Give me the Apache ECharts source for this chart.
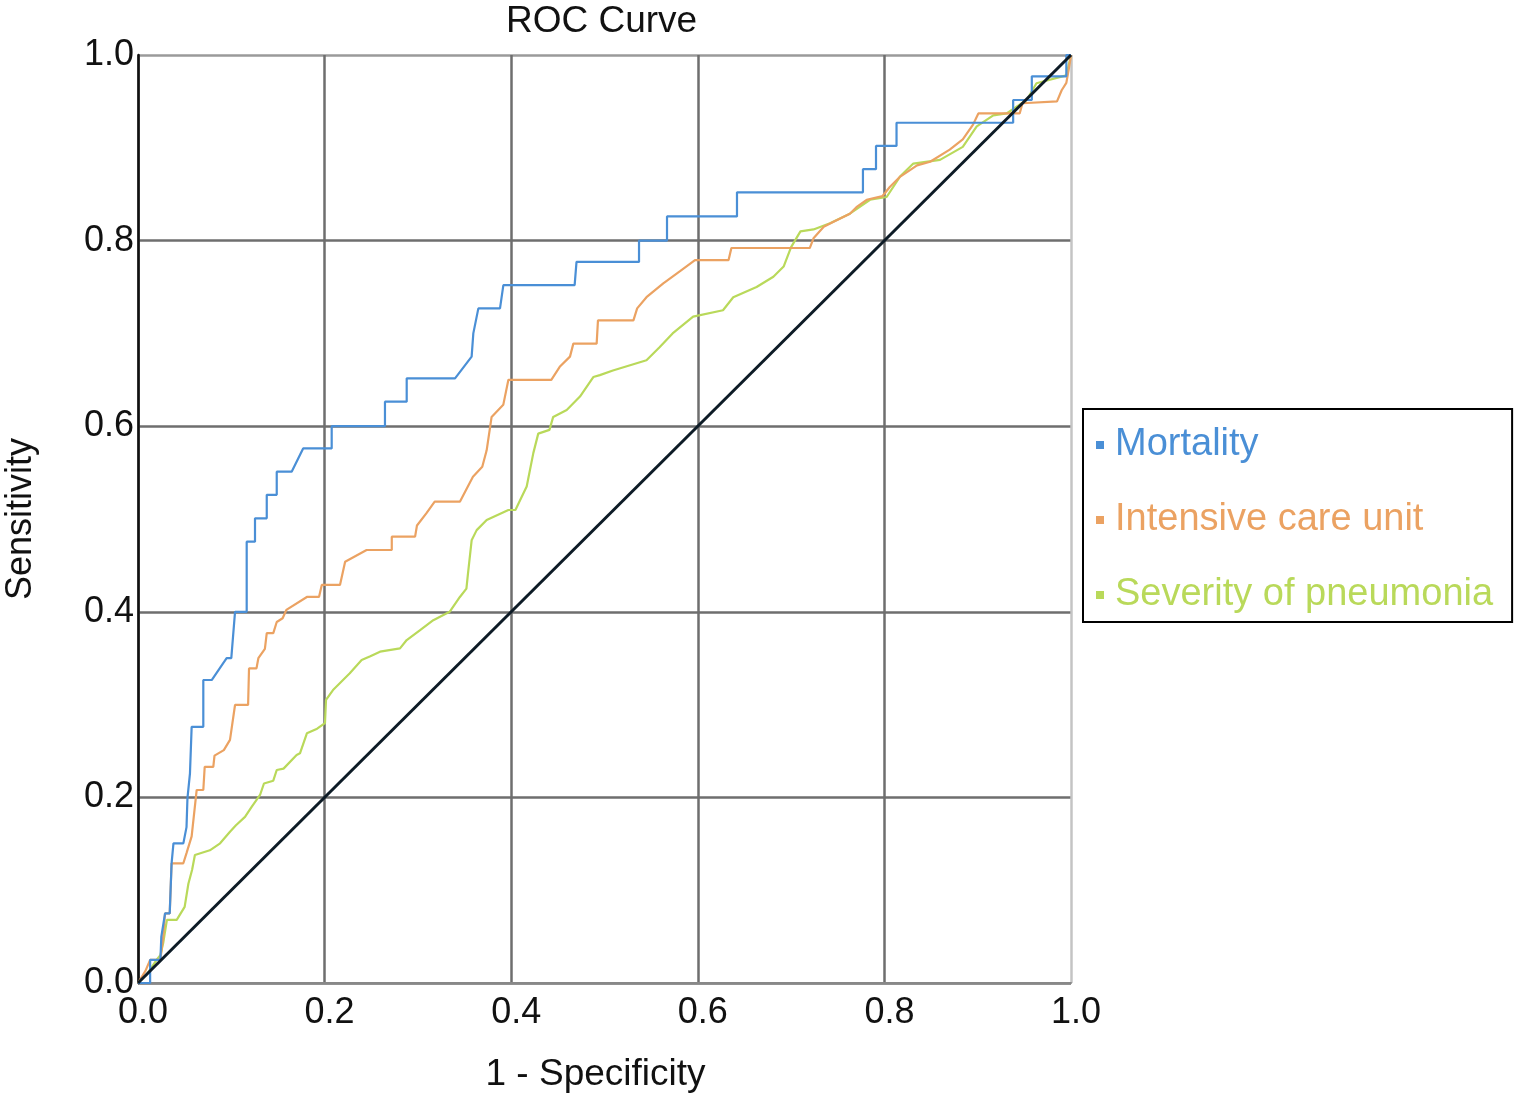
<!DOCTYPE html>
<html>
<head>
<meta charset="utf-8">
<script src="https://cdn.jsdelivr.net/npm/echarts@6/dist/echarts.min.js"></script>
<style>html,body{margin:0;padding:0;background:#fff}#chart{width:1518px;height:1098px}</style>
</head>
<body>
<div id="chart"></div>
<script>
const titleText = 'ROC Curve';
const xName = '1 - Specificity';
const yName = 'Sensitivity';
const seriesNames = ['Mortality', 'Intensive care unit', 'Severity of pneumonia'];

const mortalityX = [0,0.013,0.013,0.024,0.025,0.029,0.034,0.036,0.038,0.0486,0.052,0.053,0.0557,0.057,0.0575,0.070,0.070,0.079,0.095,0.100,0.104,0.1165,0.1165,0.1254,0.1254,0.138,0.138,0.1487,0.1487,0.1647,0.177,0.2076,0.2076,0.2647,0.2647,0.288,0.288,0.3398,0.3576,0.3594,0.3648,0.388,0.3916,0.468,0.470,0.537,0.537,0.567,0.567,0.642,0.642,0.777,0.777,0.791,0.791,0.813,0.813,0.938,0.938,0.958,0.958,0.995,0.995,1];
const mortalityY = [0,0,0.025,0.025,0.05,0.075,0.075,0.129,0.1505,0.1505,0.168,0.199,0.226,0.262,0.276,0.276,0.3265,0.3265,0.35,0.35,0.40,0.40,0.4756,0.4756,0.5007,0.5007,0.526,0.526,0.551,0.551,0.576,0.576,0.600,0.600,0.6264,0.6264,0.6516,0.6516,0.675,0.700,0.727,0.727,0.752,0.752,0.777,0.777,0.800,0.800,0.826,0.826,0.852,0.852,0.877,0.877,0.902,0.902,0.927,0.927,0.9515,0.9515,0.977,0.977,1,1];

const icuX = [0,0.008,0.013,0.024,0.027,0.029,0.034,0.036,0.0486,0.052,0.0575,0.0629,0.070,0.0715,0.0807,0.082,0.092,0.0986,0.104,0.118,0.119,0.127,0.129,0.136,0.138,0.145,0.1487,0.155,0.159,0.181,0.194,0.197,0.2165,0.222,0.245,0.272,0.272,0.297,0.299,0.309,0.318,0.345,0.359,0.369,0.3737,0.379,0.3915,0.397,0.443,0.452,0.463,0.4666,0.4916,0.493,0.531,0.535,0.545,0.563,0.581,0.597,0.633,0.636,0.720,0.724,0.735,0.745,0.763,0.770,0.781,0.798,0.806,0.817,0.835,0.849,0.870,0.884,0.895,0.9007,0.945,0.948,0.985,0.990,0.995,0.998,1];
const icuY = [0,0.013,0.025,0.025,0.05,0.075,0.075,0.129,0.129,0.14,0.158,0.208,0.208,0.233,0.233,0.245,0.251,0.262,0.2996,0.2996,0.339,0.339,0.35,0.36,0.377,0.377,0.389,0.393,0.402,0.416,0.416,0.429,0.429,0.454,0.4666,0.4666,0.481,0.481,0.493,0.506,0.5187,0.5187,0.5456,0.5564,0.574,0.610,0.623,0.65,0.65,0.664,0.675,0.689,0.689,0.714,0.714,0.727,0.739,0.754,0.767,0.779,0.779,0.792,0.792,0.8025,0.815,0.82,0.829,0.836,0.844,0.848,0.858,0.869,0.881,0.885,0.898,0.909,0.925,0.937,0.937,0.948,0.95,0.962,0.97,0.987,1];

const severityX = [0,0.01,0.02,0.024,0.027,0.031,0.0415,0.050,0.054,0.058,0.061,0.077,0.088,0.0986,0.105,0.1147,0.122,0.1308,0.135,0.145,0.1487,0.156,0.170,0.1736,0.181,0.192,0.2004,0.2015,0.209,0.227,0.2397,0.249,0.2594,0.2808,0.288,0.302,0.3165,0.334,0.345,0.352,0.3537,0.3576,0.363,0.3737,0.397,0.4045,0.4166,0.4237,0.429,0.441,0.445,0.4595,0.4737,0.488,0.495,0.509,0.545,0.559,0.573,0.595,0.627,0.638,0.663,0.681,0.692,0.700,0.71,0.724,0.7417,0.763,0.7846,0.8024,0.8167,0.831,0.8596,0.884,0.899,0.9167,0.931,0.9525,0.963,0.995,1];
const severityY = [0,0.01,0.025,0.03,0.043,0.068,0.068,0.082,0.107,0.122,0.138,0.143,0.1505,0.163,0.170,0.179,0.19,0.2026,0.215,0.218,0.2295,0.231,0.2457,0.2475,0.269,0.274,0.280,0.305,0.3157,0.3337,0.348,0.352,0.357,0.3606,0.3696,0.380,0.391,0.400,0.416,0.425,0.4415,0.477,0.488,0.499,0.5097,0.5097,0.535,0.571,0.592,0.596,0.610,0.6175,0.632,0.653,0.655,0.66,0.671,0.685,0.70,0.718,0.725,0.739,0.75,0.761,0.772,0.793,0.81,0.812,0.8186,0.829,0.844,0.847,0.869,0.883,0.887,0.901,0.923,0.935,0.937,0.9515,0.9695,0.978,1];

const refX = [0, 1];
const refY = [0, 1];
const tickLabels = ['0.0', '0.2', '0.4', '0.6', '0.8', '1.0'];

const colors = ['#4a8fd6', '#eba262', '#b9d95a'];
const zip = (xs, ys) => xs.map((x, i) => [x, ys[i]]);
const FONT = 'Liberation Sans';

const chart = echarts.init(document.getElementById('chart'));
const lbl = v => tickLabels[Math.round(v * 5)];
chart.setOption({
  animation: false,
  title: {
    text: titleText, left: 506, top: 3, padding: 0,
    textStyle: { fontFamily: FONT, fontSize: 37, fontWeight: 'normal', color: '#111' }
  },
  grid: { left: 138, right: 447, top: 55, bottom: 115, outerBoundsMode: 'none', containLabel: false },
  legend: {
    orient: 'vertical', left: 1083, top: 409,
    padding: [17, 19, 8, 13],
    borderColor: '#000', borderWidth: 2,
    icon: 'rect', itemWidth: 8, itemHeight: 8, itemGap: 37,
    textStyle: { fontFamily: FONT, fontSize: 38, padding: [0, 0, 0, 6] },
    data: seriesNames.map((n, i) => ({ name: n, textStyle: { color: colors[i] } }))
  },
  xAxis: {
    type: 'value', min: 0, max: 1, interval: 0.2,
    name: xName, nameLocation: 'middle', nameGap: 73,
    nameTextStyle: { fontFamily: FONT, fontSize: 37, color: '#111', padding: [0, 18, 0, 0] },
    axisLine: { lineStyle: { color: '#888', width: 2 } },
    axisTick: { show: false },
    axisLabel: { formatter: lbl, fontFamily: FONT, fontSize: 36, color: '#111', margin: 12, padding: [0, 0, 0, 10] },
    splitLine: { lineStyle: { color: ['#6e6e6e', '#6e6e6e', '#6e6e6e', '#6e6e6e', '#6e6e6e', '#c4c4c4'], width: 2.5 } }
  },
  yAxis: {
    type: 'value', min: 0, max: 1, interval: 0.2,
    name: yName, nameLocation: 'middle', nameGap: 99,
    nameTextStyle: { fontFamily: FONT, fontSize: 36, color: '#111' },
    axisLine: { show: true, lineStyle: { color: '#111', width: 2.5 } },
    axisTick: { show: false },
    axisLabel: { formatter: lbl, fontFamily: FONT, fontSize: 36, color: '#111', margin: 4 },
    splitLine: { lineStyle: { color: ['#6e6e6e', '#6e6e6e', '#6e6e6e', '#6e6e6e', '#6e6e6e', '#9a9a9a'], width: 2.5 } }
  },
  series: [
    { name: seriesNames[0], type: 'line', data: zip(mortalityX, mortalityY), showSymbol: false, color: colors[0], lineStyle: { width: 2.2 }, z: 4 },
    { name: seriesNames[1], type: 'line', data: zip(icuX, icuY), showSymbol: false, color: colors[1], lineStyle: { width: 2.2 }, z: 3 },
    { name: seriesNames[2], type: 'line', data: zip(severityX, severityY), showSymbol: false, color: colors[2], lineStyle: { width: 2.2 }, z: 2 },
    { name: 'Reference', type: 'line', data: zip(refX, refY), showSymbol: false, color: '#0d1b26', lineStyle: { width: 3 }, z: 5 }
  ]
});
</script>
</body>
</html>
